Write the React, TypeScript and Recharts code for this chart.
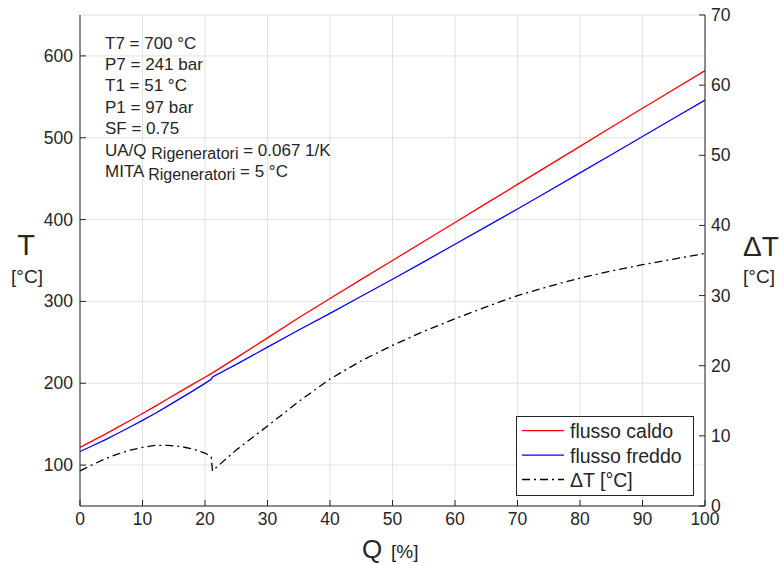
import { LineChart, Line, XAxis, YAxis, CartesianGrid } from 'recharts';

// Q [%] sampling points, with a doubled point where the ΔT curve jumps
const Q_PCT = [0, 2, 4, 6, 8, 10, 12, 14, 16, 18, 20, 21, 21.2, 25, 30, 35, 40, 45, 50, 55, 60, 65, 70, 75, 80, 85, 90, 95, 100];
const T_HOT = [121.6, 129.5, 137.6, 146, 154.5, 163, 171.8, 180.7, 189.7, 198.6, 207.4, 211.8, 212.7, 231, 255.5, 280, 303.5, 327, 350, 373.3, 396.5, 419.8, 443, 466.3, 489.5, 512.8, 536, 559, 582];
const T_COLD = [116.6, 123.6, 130.9, 138.6, 146.5, 154.6, 163.1, 172, 181.2, 190.4, 199.9, 204.8, 207.7, 223, 244.1, 265.1, 285.4, 306.3, 327.1, 348.4, 369.8, 391.4, 413, 435, 457, 479.3, 501.6, 523.8, 546];
const DELTA_T = [5, 5.9, 6.7, 7.4, 7.95, 8.35, 8.65, 8.65, 8.5, 8.15, 7.55, 7, 5, 8, 11.4, 14.9, 18.1, 20.7, 22.9, 24.9, 26.7, 28.4, 30, 31.3, 32.5, 33.5, 34.4, 35.2, 36];

const X_TICKS = [0, 10, 20, 30, 40, 50, 60, 70, 80, 90, 100];
const T_TICKS = [100, 200, 300, 400, 500, 600];
const DT_TICKS = [0, 10, 20, 30, 40, 50, 60, 70];

const PARAMS = [
  { main: 'T7 = 700 °C' },
  { main: 'P7 = 241 bar' },
  { main: 'T1 = 51 °C' },
  { main: 'P1 = 97 bar' },
  { main: 'SF = 0.75' },
  { main: 'UA/Q ', sub: 'Rigeneratori', tail: ' = 0.067 1/K' },
  { main: 'MITA ', sub: 'Rigeneratori', tail: ' = 5 °C' },
];

const SERIES = [
  { key: 'hot', name: 'flusso caldo', color: '#ff0000', axis: 'left', dash: undefined },
  { key: 'cold', name: 'flusso freddo', color: '#0000ff', axis: 'left', dash: undefined },
  { key: 'dt', name: 'ΔT [°C]', color: '#000000', axis: 'right', dash: '8 4 2 4' },
];

const FONT = '"Liberation Sans", Arial, Helvetica, sans-serif';
const AXIS = '#262626';
const GRID = '#e2e2e2';
const TICK = 6;

const data = Q_PCT.map((q, i) => ({ q, hot: T_HOT[i], cold: T_COLD[i], dt: DELTA_T[i] }));

function BottomTick({ x, y, payload }: any) {
  return (
    <g>
      <line x1={x} x2={x} y1={y} y2={y - TICK} stroke={AXIS} />
      <text x={x} y={y + 19} textAnchor="middle" fontSize={17.5} fontFamily={FONT} fill={AXIS}>
        {payload.value}
      </text>
    </g>
  );
}

function TopTick({ x, y }: any) {
  return <line x1={x} x2={x} y1={y} y2={y + TICK} stroke={AXIS} />;
}

function LeftTick({ x, y, payload }: any) {
  return (
    <g>
      <line x1={x} x2={x + TICK} y1={y} y2={y} stroke={AXIS} />
      <text x={x - 7} y={y + 6} textAnchor="end" fontSize={17.5} fontFamily={FONT} fill={AXIS}>
        {payload.value}
      </text>
    </g>
  );
}

function RightTick({ x, y, payload }: any) {
  return (
    <g>
      <line x1={x} x2={x - TICK} y1={y} y2={y} stroke={AXIS} />
      <text x={x + 6} y={y + 6} textAnchor="start" fontSize={17.5} fontFamily={FONT} fill={AXIS}>
        {payload.value}
      </text>
    </g>
  );
}

export default function App() {
  return (
    <div style={{ position: 'relative', width: 783, height: 565, background: '#fff', fontFamily: FONT }}>
      <style>{'body{margin:0}'}</style>
      <LineChart width={783} height={565} data={data} margin={{ top: 15, right: 0, bottom: 0, left: 0 }}>
        <CartesianGrid yAxisId="left" stroke={GRID} strokeWidth={1} />
        <XAxis
          dataKey="q"
          type="number"
          domain={[0, 100]}
          ticks={X_TICKS}
          height={59}
          tickSize={0}
          tickMargin={0}
          tickLine={false}
          axisLine={{ stroke: AXIS }}
          tick={<BottomTick />}
          interval={0}
        />
        <XAxis
          xAxisId="top"
          orientation="top"
          type="number"
          domain={[0, 100]}
          ticks={X_TICKS}
          height={0}
          tickSize={0}
          tickMargin={0}
          tickLine={false}
          axisLine={{ stroke: AXIS }}
          tick={<TopTick />}
          interval={0}
        />
        <YAxis
          yAxisId="left"
          type="number"
          domain={[50, 650]}
          ticks={T_TICKS}
          width={80}
          tickSize={0}
          tickMargin={0}
          tickLine={false}
          axisLine={{ stroke: AXIS }}
          tick={<LeftTick />}
          interval={0}
        />
        <YAxis
          yAxisId="right"
          orientation="right"
          type="number"
          domain={[0, 70]}
          ticks={DT_TICKS}
          width={78}
          tickSize={0}
          tickMargin={0}
          tickLine={false}
          axisLine={{ stroke: AXIS }}
          tick={<RightTick />}
          interval={0}
        />
        {SERIES.map(s => (
          <Line
            key={s.key}
            yAxisId={s.axis}
            dataKey={s.key}
            name={s.name}
            type="linear"
            stroke={s.color}
            strokeWidth={1.3}
            strokeDasharray={s.dash}
            dot={false}
            activeDot={false}
            isAnimationActive={false}
          />
        ))}
      </LineChart>

      <svg
        width={783}
        height={565}
        style={{ position: 'absolute', left: 0, top: 0, pointerEvents: 'none' }}
        fontFamily={FONT}
        fill={AXIS}
      >
        {/* parameter box */}
        {PARAMS.map((p, i) => (
          <text key={i} x={105} y={48.5 + i * 21.45} fontSize={17} style={{ whiteSpace: 'pre' }}>
            <tspan>{p.main}</tspan>
            {p.sub && (
              <tspan dy={3} fontSize={16}>
                {p.sub}
              </tspan>
            )}
            {p.tail && <tspan dy={-3}>{p.tail}</tspan>}
          </text>
        ))}

        {/* axis labels */}
        <text x={26} y={255} fontSize={29} textAnchor="middle">T</text>
        <text x={27} y={283} fontSize={19} textAnchor="middle">[°C]</text>
        <text x={761} y={256} fontSize={28} textAnchor="middle">ΔT</text>
        <text x={759} y={283} fontSize={19} textAnchor="middle">[°C]</text>
        <text x={362} y={558} fontSize={26}>Q</text>
        <text x={391} y={558} fontSize={19}>[%]</text>

        {/* legend */}
        <rect x={516.5} y={416.5} width={177} height={79} fill="#fff" stroke={AXIS} />
        {SERIES.map((s, i) => (
          <g key={s.key}>
            <line
              x1={522}
              x2={564}
              y1={430.7 + i * 24.4}
              y2={430.7 + i * 24.4}
              stroke={s.color}
              strokeWidth={1.3}
              strokeDasharray={s.dash}
            />
            <text x={570} y={438.3 + i * 24.5} fontSize={19.5}>
              {s.name}
            </text>
          </g>
        ))}
      </svg>
    </div>
  );
}
